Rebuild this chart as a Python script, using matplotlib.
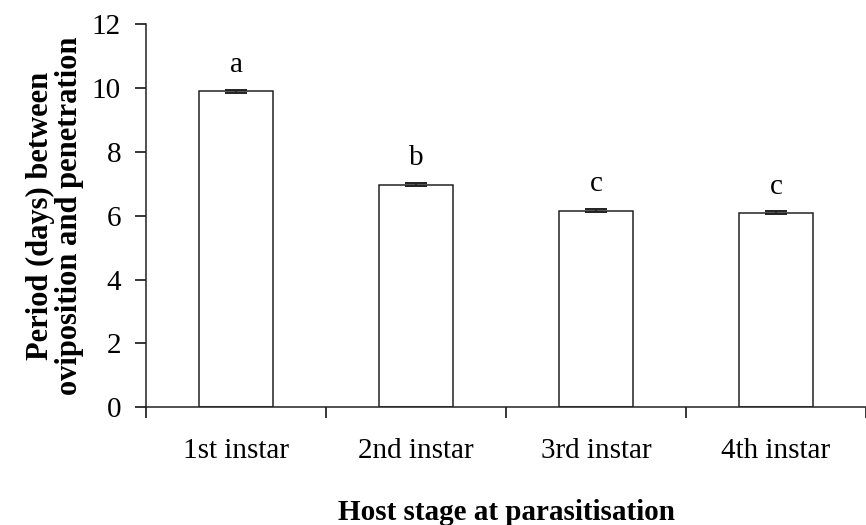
import matplotlib.pyplot as plt
import numpy as np

plt.rcParams['font.family'] = 'Liberation Serif'

stages = ["1st instar", "2nd instar", "3rd instar", "4th instar"]
period = [9.89, 6.97, 6.16, 6.09]
se = [0.05, 0.05, 0.05, 0.05]
letters = ["a", "b", "c", "c"]

fig = plt.figure(figsize=(8.66, 5.25), dpi=100)
ax = fig.add_axes([0.1686, 0.2242, 0.8314, 0.7301])

x = np.arange(len(stages))
ax.bar(x, period, width=0.41, color="white", edgecolor="#222222", linewidth=1.1,
       yerr=se, error_kw=dict(ecolor="#222222", elinewidth=1.1, capsize=8, capthick=1.4))

for xi, v, e, t in zip(x, period, se, letters):
    ax.text(xi, v + e + 0.55, t, ha="center", va="baseline", fontsize=21)

ax.set_xlim(-0.5, 3.5)
ax.set_ylim(0, 12)
ax.set_yticks(range(0, 13, 2))
# ticks on the x axis sit between the bars
ax.set_xticks(np.arange(-0.5, 4, 1))
ax.set_xticklabels([])
ax.set_xticks(x, minor=True)
ax.set_xticklabels(stages, minor=True, fontsize=21)
ax.tick_params(axis="x", which="minor", length=0, pad=22)
ax.tick_params(axis="x", which="major", length=8, width=1.1, direction="out")
ax.tick_params(axis="y", length=8, width=1.1, direction="out", labelsize=21, pad=10)

for s in ["top", "right"]:
    ax.spines[s].set_visible(False)
for s in ["left", "bottom"]:
    ax.spines[s].set_linewidth(1.1)
    ax.spines[s].set_color("#222222")

ax.set_ylabel("Period (days) between\noviposition and penetration",
              fontsize=22, fontweight="bold", labelpad=6, linespacing=0.98)
fig.text(0.5843, 0.0095, "Host stage at parasitisation", ha="center", va="baseline",
         fontsize=21, fontweight="bold")

fig.savefig("out.png", dpi=100)
